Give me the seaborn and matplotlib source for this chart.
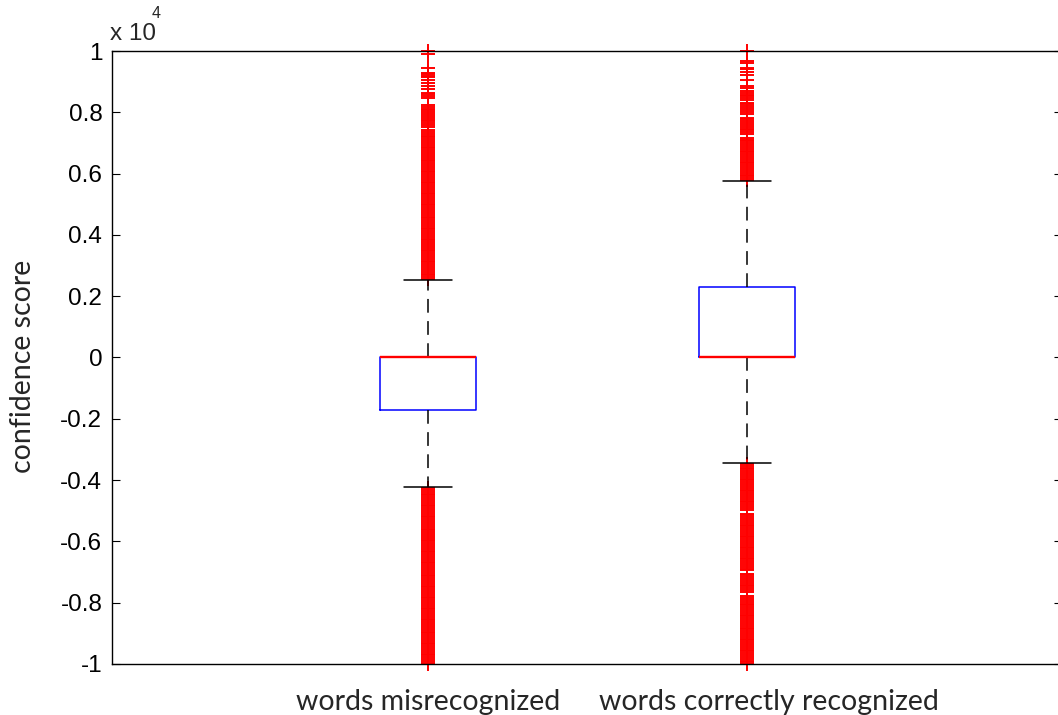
import matplotlib
matplotlib.use("Agg")
import matplotlib.pyplot as plt
import matplotlib.transforms as mtransforms
import numpy as np
import pandas as pd
import seaborn as sns

# ---------------- data ----------------
categories = ["words misrecognized", "words correctly recognized"]

# box summary per category: lower whisker, Q1, median, Q3, upper whisker
mis_box = [-4225, -1713, 0, 0, 2530]
cor_box = [-3440, 0, 0, 2300, 5760]

# outliers (values clipped to +/-10000 in the source)
mis_high = [2560, 2620, 2680, 2740, 2800, 2860, 2920, 2980, 3040, 3100, 3160, 3220,
            3280, 3340, 3400, 3460, 3520, 3580, 3640, 3700, 3760, 3820, 3880, 3940,
            4000, 4060, 4120, 4180, 4240, 4300, 4360, 4420, 4480, 4540, 4600, 4660,
            4720, 4780, 4840, 4900, 4960, 5020, 5080, 5140, 5200, 5260, 5320, 5380,
            5440, 5500, 5560, 5620, 5680, 5740, 5800, 5860, 5920, 5980, 6040, 6100,
            6160, 6220, 6280, 6340, 6400, 6460, 6520, 6580, 6640, 6700, 6760, 6820,
            6880, 6940, 7000, 7060, 7120, 7180, 7240, 7300, 7360, 7410,
            7520, 7580, 7640, 7700, 7760, 7820, 7880, 7940, 8000, 8060, 8120, 8180, 8250,
            8470, 8530, 8590, 8630, 8760, 8860, 8955, 9045,
            9150, 9200, 9245, 9280, 9445, 9900, 10000]
mis_low = [-4260, -4320, -4380, -4440, -4500, -4560, -4620, -4680, -4740, -4800, -4860,
           -4920, -4980, -5040, -5100, -5160, -5220, -5280, -5340, -5400, -5460, -5520,
           -5580, -5640, -5700, -5760, -5820, -5880, -5940, -6000, -6060, -6120, -6180,
           -6240, -6300, -6360, -6420, -6480, -6540, -6600, -6660, -6720, -6780, -6840,
           -6900, -6960, -7020, -7080, -7140, -7200, -7260, -7320, -7380, -7440, -7500,
           -7560, -7620, -7680, -7740, -7800, -7860, -7920, -7980, -8040, -8100, -8160,
           -8220, -8280, -8340, -8400, -8460, -8520, -8580, -8640, -8700, -8760, -8820,
           -8880, -8940, -9000, -9060, -9120, -9180, -9240, -9300, -9360, -9420, -9480,
           -9540, -9600, -9660, -9720, -9780, -9840, -9900, -9960, -10000]
cor_high = [5790, 5850, 5910, 5970, 6030, 6090, 6150, 6210, 6270, 6330, 6390, 6450,
            6510, 6570, 6630, 6690, 6750, 6810, 6870, 6930, 6990, 7050, 7110, 7170,
            7290, 7350, 7410, 7470, 7530, 7590, 7650, 7710, 7770, 7830,
            7930, 8020, 8080, 8140, 8200, 8260, 8300,
            8400, 8460, 8520, 8580, 8630, 8690, 8780, 8860, 9044,
            9220, 9300, 9410, 9450, 9600, 9690, 10000]
cor_low = [-3470, -3530, -3590, -3650, -3710, -3770, -3830, -3890, -3950, -4010, -4070,
           -4130, -4190, -4250, -4310, -4370, -4430, -4490, -4550, -4610, -4670, -4730,
           -4790, -4850, -4910, -4970,
           -5090, -5150, -5210, -5270, -5330, -5390, -5450, -5510, -5570, -5630, -5690,
           -5750, -5810, -5870, -5930, -5990, -6050, -6110, -6170, -6230, -6290, -6350,
           -6410, -6470, -6530, -6590, -6650, -6710, -6770, -6830, -6890, -6930,
           -7050, -7110, -7170, -7230, -7290, -7350, -7410, -7470, -7530, -7590, -7660,
           -7790, -7850, -7910, -7970, -8030, -8090, -8150, -8210, -8270, -8330, -8390,
           -8450, -8510, -8570, -8630, -8690, -8750, -8810, -8870, -8930, -8990, -9050,
           -9110, -9170, -9230, -9290, -9350, -9410, -9470, -9530, -9590, -9650, -9710,
           -9770, -9830, -9890, -9950, -10000]

ytick_values = [-10000, -8000, -6000, -4000, -2000, 0, 2000, 4000, 6000, 8000, 10000]
ytick_labels = ["-1", "-0.8", "-0.6", "-0.4", "-0.2", "0", "0.2", "0.4", "0.6", "0.8", "1"]

# ---------------- plot ----------------
sns.set_style("white")
plt.rcParams["font.family"] = ["Liberation Sans", "DejaVu Sans"]

W, H = 1058, 715
fig = plt.figure(figsize=(W / 100, H / 100), dpi=100)
ax_l, ax_r, ax_t, ax_b = 112, 1062, 51, 664
ax = fig.add_axes([ax_l / W, 1 - ax_b / H, (ax_r - ax_l) / W, (ax_b - ax_t) / H])

box_df = pd.DataFrame({
    "group": [categories[0]] * len(mis_box) + [categories[1]] * len(cor_box),
    "score": mis_box + cor_box,
})
out_df = pd.DataFrame({
    "group": [categories[0]] * (len(mis_high) + len(mis_low))
             + [categories[1]] * (len(cor_high) + len(cor_low)),
    "score": mis_high + mis_low + cor_high + cor_low,
})

sns.stripplot(data=out_df, x="group", y="score", order=categories, jitter=False,
              marker="+", color="red", size=10.5, linewidth=1.4, clip_on=False,
              zorder=1.5, ax=ax)

sns.boxplot(data=box_df, x="group", y="score", order=categories, whis=(0, 100),
            width=0.3, fill=False, showfliers=False, linewidth=1.1,
            boxprops=dict(color="blue"),
            medianprops=dict(color="red", linewidth=1.7),
            whiskerprops=dict(color="black", linestyle=(0, (9, 5.5))),
            capprops=dict(color="black"),
            ax=ax)

# make sure the red median line sits on top of the blue box edge
for ln in ax.lines:
    if matplotlib.colors.to_hex(ln.get_color()) == "#ff0000":
        ln.set_zorder(4)
        ln.set_solid_capstyle("butt")

ax.set_xlim(-0.9915, 1.9865)
ax.set_ylim(-10000, 10000)
ax.set_yticks(ytick_values)
ax.set_yticklabels(ytick_labels)
ax.tick_params(axis="y", direction="in", length=5.5, width=0.8, left=True, right=True,
               labelsize=17.5, pad=7, colors="black")
ax.tick_params(axis="x", length=0, pad=18, labelsize=20.5)
xlabs = ax.get_xticklabels()
for lab in xlabs:
    lab.set_fontfamily("Lato")
# second category label sits a little right of its box in the reference
xlabs[1].set_transform(xlabs[1].get_transform()
                       + mtransforms.ScaledTranslation(0.22, 0, fig.dpi_scale_trans))
ax.set_xlabel("")
ax.set_ylabel("confidence score", fontfamily="Lato", fontsize=20.5)
ax.yaxis.set_label_coords((36 - ax_l) / (ax_r - ax_l), 0.486)

for sp in ax.spines.values():
    sp.set_color("black")
    sp.set_linewidth(1.0)
    sp.set_visible(True)

ax.text((110 - ax_l) / (ax_r - ax_l), 1 + (ax_t - 40) / (ax_b - ax_t), "x 10",
        transform=ax.transAxes, fontsize=17.5, ha="left", va="baseline")
ax.text((152 - ax_l) / (ax_r - ax_l), 1 + (ax_t - 18) / (ax_b - ax_t), "4",
        transform=ax.transAxes, fontsize=11.5, ha="left", va="baseline")

fig.savefig("out.png", dpi=100, facecolor="white")
